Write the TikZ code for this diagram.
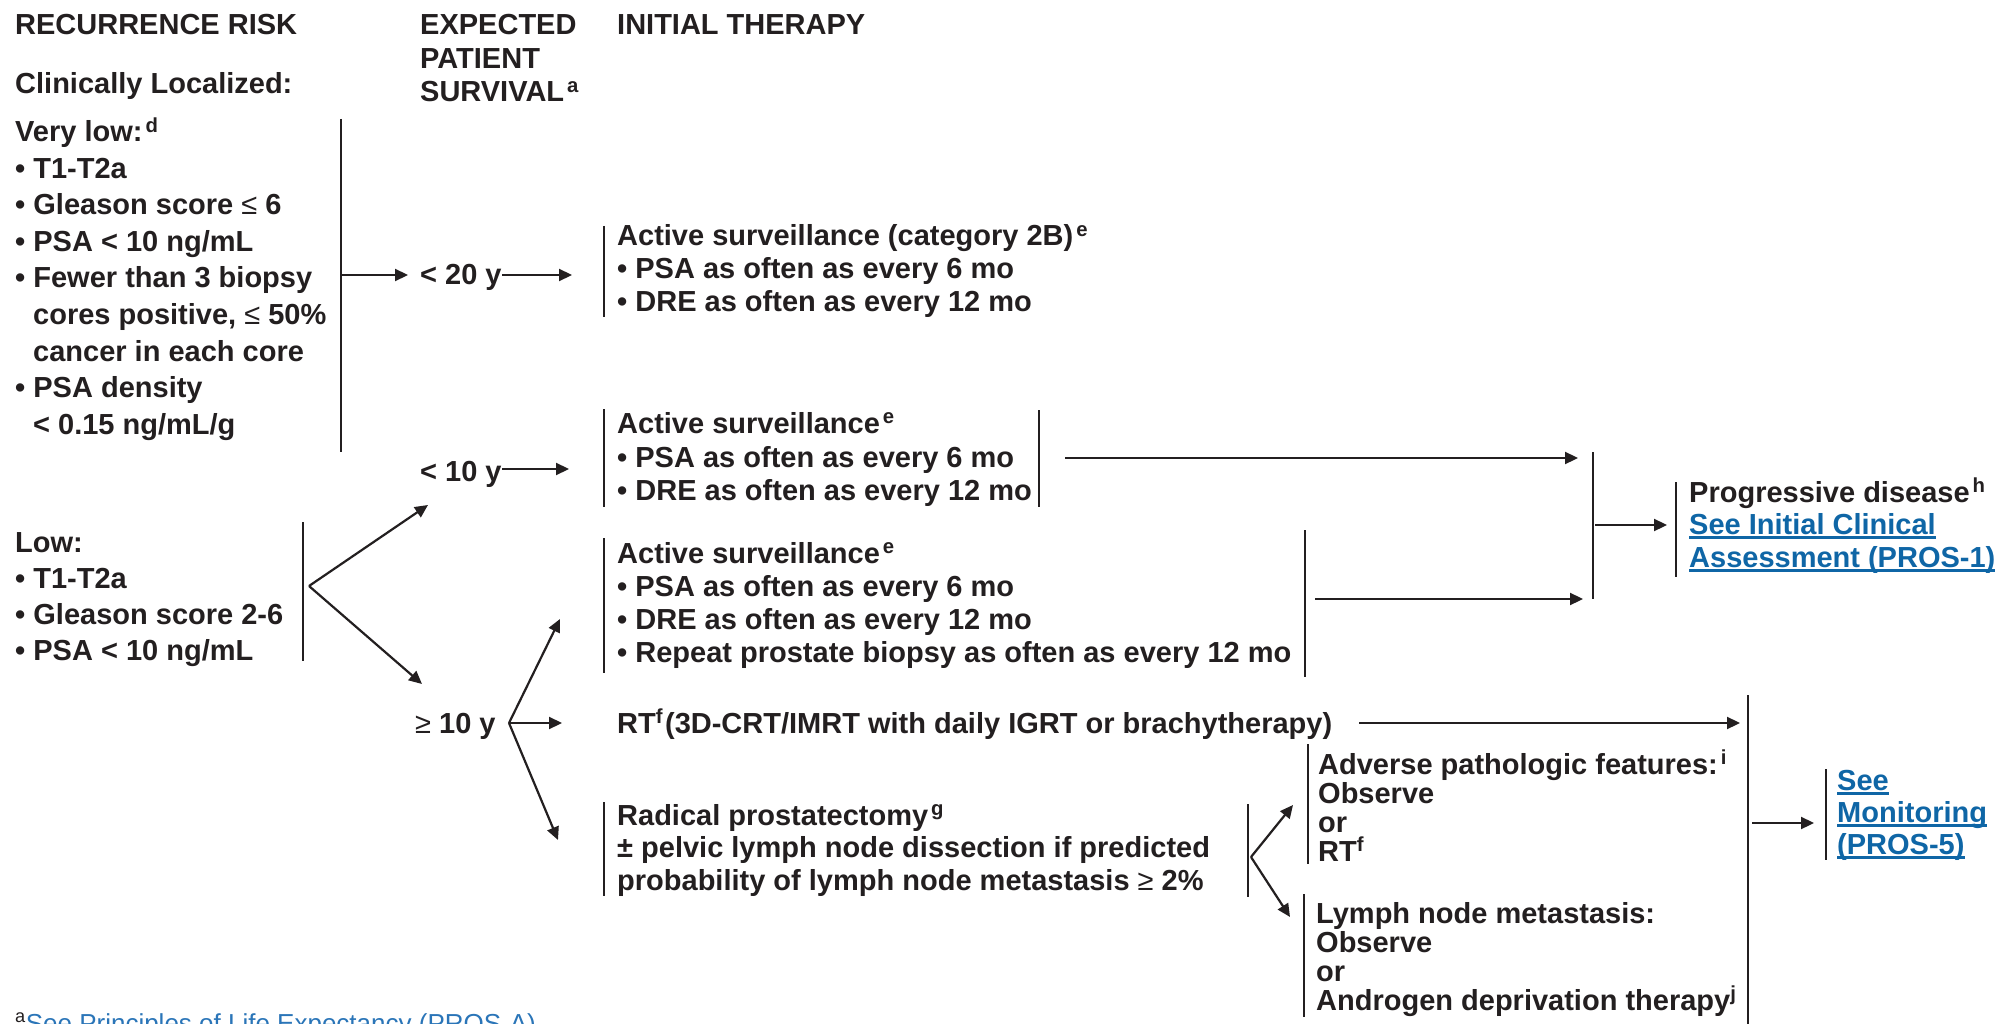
\documentclass[tikz,border=0pt]{standalone}
\usepackage{fontspec}
\setmainfont{Liberation Sans}
\usetikzlibrary{arrows.meta}
\definecolor{ink}{HTML}{231F20}
\definecolor{lnk}{HTML}{0F66A6}
\definecolor{fnblue}{HTML}{2A75B8}
\newcommand\ulink[1]{\setbox0\hbox{#1}\rlap{\rule[-4.5pt]{\wd0}{2.2pt}}\box0}
\newcommand\sps[1]{\kern3pt\textsuperscript{#1}}
\newcommand\thinsym[1]{{\mdseries #1}}
\begin{document}
\begin{tikzpicture}[x=1pt,y=-1pt,
  txt/.style={anchor=base west,inner sep=0pt,text=ink,font=\fontsize{29}{33}\selectfont\bfseries},
  link/.style={txt,text=lnk},
  bar/.style={draw=ink,line width=2.4pt},
  arr/.style={draw=ink,line width=2.2pt,-{Triangle[length=13pt,width=12pt]}},
]
\useasboundingbox (0,0) rectangle (2003,1024);
\clip (0,0) rectangle (2003,1024);
\fill[white] (0,0) rectangle (2003,1024);

% headers
\node[txt] (hrisk) at (15,35) {RECURRENCE RISK};
\node[txt] (hsurv1) at (420,35) {EXPECTED};
\node[txt] (hsurv2) at (420,69) {PATIENT};
\node[txt] (hsurv3) at (420,102) {SURVIVAL\sps{a}};
\node[txt] (hther) at (617,35) {INITIAL THERAPY};
\node[txt] (hloc) at (15,94) {Clinically Localized:};

% very low block
\node[txt] (vl0) at (15,142) {Very low:\sps{d}};
\node[txt] (vl1) at (15,178.5) {\textbullet\ T1-T2a};
\node[txt] (vl2) at (15,215) {\textbullet\ Gleason score \thinsym{≤} 6};
\node[txt] (vl3) at (15,251.5) {\textbullet\ PSA < 10 ng/mL};
\node[txt] (vl4) at (15,288) {\textbullet\ Fewer than 3 biopsy};
\node[txt] (vl5) at (33,324.5) {cores positive, \thinsym{≤} 50\%};
\node[txt] (vl6) at (33,361) {cancer in each core};
\node[txt] (vl7) at (15,397.5) {\textbullet\ PSA density};
\node[txt] (vl8) at (33,434) {< 0.15 ng/mL/g};
\coordinate (vlT) at (341,119);
\coordinate (vlB) at (341,452);
\coordinate (vlO) at (341,275);
\draw[bar] (vlT) -- (vlB);

% low block
\node[txt] (lo0) at (15,552) {Low:};
\node[txt] (lo1) at (15,588) {\textbullet\ T1-T2a};
\node[txt] (lo2) at (15,624) {\textbullet\ Gleason score 2-6};
\node[txt] (lo3) at (15,660) {\textbullet\ PSA < 10 ng/mL};
\coordinate (loT) at (303,522);
\coordinate (loB) at (303,661);
\coordinate (loO) at (309,586);
\draw[bar] (loT) -- (loB);

% survival labels
\node[txt] (s20) at (420,285) {< 20 y};
\node[txt] (s10) at (420,481) {< 10 y};
\node[txt] (sge) at (415,733) {\thinsym{≥} 10 y};
\coordinate (s20in) at (408,275);
\coordinate (s20out) at (502,275);
\coordinate (s10in) at (428,505);
\coordinate (s10out) at (502,469);
\coordinate (sgein) at (422,684);
\coordinate (sgeO) at (509,723);

% block 1: active surveillance cat 2B
\node[txt] (b1a) at (617,246) {Active surveillance (category 2B)\sps{e}};
\node[txt] (b1b) at (617,279) {\textbullet\ PSA as often as every 6 mo};
\node[txt] (b1c) at (617,312) {\textbullet\ DRE as often as every 12 mo};
\coordinate (b1in) at (572,275);
\draw[bar] (604,226) -- (604,317);

% block 2
\node[txt] (b2a) at (617,433) {Active surveillance\sps{e}};
\node[txt] (b2b) at (617,467) {\textbullet\ PSA as often as every 6 mo};
\node[txt] (b2c) at (617,500) {\textbullet\ DRE as often as every 12 mo};
\coordinate (b2in) at (569,469);
\draw[bar] (604,409) -- (604,507);
\draw[bar] (1039,410) -- (1039,507);
\coordinate (b2out) at (1065,458);

% block 3
\node[txt] (b3a) at (617,563) {Active surveillance\sps{e}};
\node[txt] (b3b) at (617,596) {\textbullet\ PSA as often as every 6 mo};
\node[txt] (b3c) at (617,629) {\textbullet\ DRE as often as every 12 mo};
\node[txt] (b3d) at (617,662) {\textbullet\ Repeat prostate biopsy as often as every 12 mo};
\coordinate (b3in) at (560,619);
\draw[bar] (604,538) -- (604,673);
\draw[bar] (1305,530) -- (1305,677);
\coordinate (b3out) at (1315,599);

% RT
\node[txt] (rt) at (617,733) {RT\textsuperscript{f}\kern2pt(3D-CRT/IMRT with daily IGRT or brachytherapy)};
\coordinate (rtin) at (562,723);
\coordinate (rtout) at (1359,723);

% radical prostatectomy
\node[txt] (rp1) at (617,825) {Radical prostatectomy\sps{g}};
\node[txt] (rp2) at (617,857) {± pelvic lymph node dissection if predicted};
\node[txt] (rp3) at (617,890) {probability of lymph node metastasis \thinsym{≥} 2\%};
\coordinate (rpin) at (558,840);
\draw[bar] (604,802) -- (604,896);
\draw[bar] (1248,804) -- (1248,897);
\coordinate (rpO) at (1251,857);

% adverse
\node[txt] (ad1) at (1318,774) {Adverse pathologic features:\sps{i}};
\node[txt] (ad2) at (1318,803) {Observe};
\node[txt] (ad3) at (1318,832) {or};
\node[txt] (ad4) at (1318,861) {RT\textsuperscript{f}};
\coordinate (adin) at (1293,805);
\draw[bar] (1308,744) -- (1308,864);

% lymph node
\node[txt] (ln1) at (1316,923) {Lymph node metastasis:};
\node[txt] (ln2) at (1316,952) {Observe};
\node[txt] (ln3) at (1316,981) {or};
\node[txt] (ln4) at (1316,1010) {Androgen deprivation therapy\textsuperscript{j}};
\coordinate (lnin) at (1290,917);
\draw[bar] (1304,894) -- (1304,1017);

% merge to progressive
\coordinate (pgT) at (1593,452);
\coordinate (pgB) at (1593,599);
\coordinate (pgI1) at (1578,458);
\coordinate (pgI2) at (1583,599);
\coordinate (pgO) at (1595,525);
\draw[bar] (pgT) -- (pgB);
\node[txt] (pd1) at (1689,502) {Progressive disease\sps{h}};
\node[link] (pd2) at (1689,534) {\ulink{See Initial Clinical}};
\node[link] (pd3) at (1689,567) {\ulink{Assessment (PROS-1)}};
\draw[bar] (1676,482) -- (1676,577);
\coordinate (pdin) at (1667,525);

% merge to monitoring
\coordinate (mnT) at (1748,695);
\coordinate (mnB) at (1748,1024);
\coordinate (mnI) at (1740,723);
\coordinate (mnO) at (1752,823);
\draw[bar] (mnT) -- (mnB);
\node[link] (mo1) at (1837,790) {\ulink{See}};
\node[link] (mo2) at (1837,822) {\ulink{Monitoring}};
\node[link] (mo3) at (1837,854) {\ulink{(PROS-5)}};
\draw[bar] (1826,769) -- (1826,860);
\coordinate (moin) at (1814,823);

% footnote
\node[anchor=base west,inner sep=0pt,font=\fontsize{26}{30}\selectfont] (fn) at (15,1032)
  {\textcolor{ink}{\textsuperscript{a}}\textcolor{fnblue}{See Principles of Life Expectancy (PROS-A)}};

% connectors
\draw[arr] (vlO) -- (s20in);
\draw[arr] (s20out) -- (b1in);
\draw[arr] (loO) -- (s10in);
\draw[arr] (loO) -- (sgein);
\draw[arr] (s10out) -- (b2in);
\draw[arr] (sgeO) -- (b3in);
\draw[arr] (sgeO) -- (rtin);
\draw[arr] (sgeO) -- (rpin);
\draw[arr] (b2out) -- (pgI1);
\draw[arr] (b3out) -- (pgI2);
\draw[arr] (pgO) -- (pdin);
\draw[arr] (rtout) -- (mnI);
\draw[arr] (rpO) -- (adin);
\draw[arr] (rpO) -- (lnin);
\draw[arr] (mnO) -- (moin);
\end{tikzpicture}
\end{document}
